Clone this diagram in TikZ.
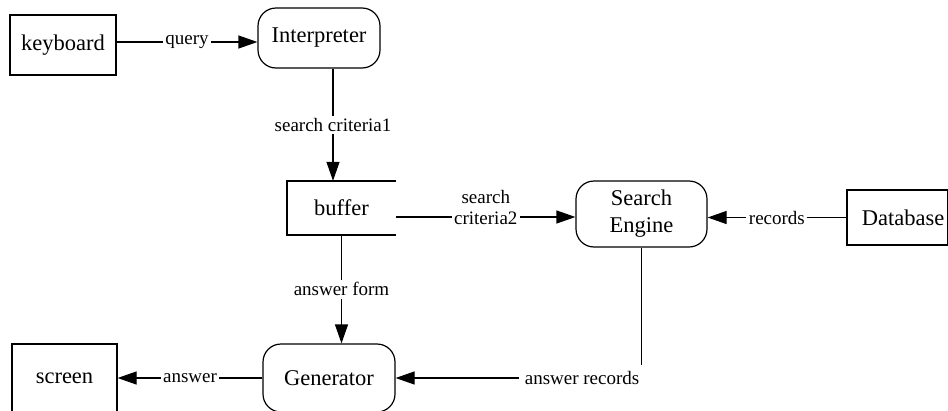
\documentclass[tikz,border=0pt]{standalone}
\usepackage{fontspec}
\setmainfont{Liberation Serif}
\usetikzlibrary{arrows.meta}
\begin{document}
\begin{tikzpicture}[x=1pt,y=-1pt,
  nodefont/.style={font=\rmfamily\fontsize{22.5}{27}\selectfont},
  proc/.style={draw, rounded corners=18pt, line width=1.2pt, inner sep=0pt, align=center, nodefont},
  ext/.style={draw, line width=1.2pt, inner sep=0pt, align=center, nodefont},
  store/.style={inner sep=0pt, align=center, nodefont},
  flow/.style={line width=1.2pt, -{Triangle[length=19pt,width=13pt]}},
  lbl/.style={fill=white, inner sep=2.5pt, align=center, font=\rmfamily\fontsize{19}{21}\selectfont}]
\useasboundingbox (0,0) rectangle (948,410);
\clip (0,0) rectangle (948,410);

% processes, external entities and the data store
\node[ext, minimum width=106pt, minimum height=60pt] (keyboard) at (63,45) {keyboard};
\node[proc, minimum width=122pt, minimum height=60pt] (interp) at (319,38) {Interpreter};
\node[store, minimum width=109pt, minimum height=54pt] (buffer) at (341.5,208) {buffer};
\draw[line width=2.4pt] (buffer.north east) -- (buffer.north west) -- (buffer.south west) -- (buffer.south east);
\node[proc, minimum width=131pt, minimum height=66pt] (search) at (641.5,214) {Search\\Engine};
\node[ext, line width=1.6pt, minimum width=100.5pt, minimum height=55pt] (db) at (897.25,217.5) {};
\node[nodefont] (dbtext) at (903,217.5) {Database};
\node[ext, minimum width=105pt, minimum height=68pt] (screen) at (64.5,378) {screen};
\node[proc, minimum width=132pt, minimum height=68pt] (gen) at (329,378) {Generator};

% data flows
\draw[flow] ([yshift=3pt]keyboard.east) -- node[lbl]{query} ([yshift=-4pt]interp.west);
\draw[flow] ([xshift=14pt]interp.south) -- node[lbl]{search criteria1} ([xshift=-8.5pt]buffer.north);
\draw[flow] ([yshift=-9pt]buffer.east) -- node[lbl, yshift=10pt]{search\\criteria2} ([yshift=-9pt]buffer.east -| search.west);
\draw[flow] (db.west) -- node[lbl]{records} (db.west -| search.east);
\draw[flow] (buffer.south) -- node[lbl]{answer form} (buffer.south |- gen.north);
\draw[flow] (gen.west) -- node[lbl]{answer} (screen.east);
\draw[flow] (search.south) |- (gen.east);
\node[lbl, inner sep=6pt, anchor=east, xshift=4pt] (ansrec) at (search.south |- gen.east) {answer records};
\end{tikzpicture}
\end{document}
